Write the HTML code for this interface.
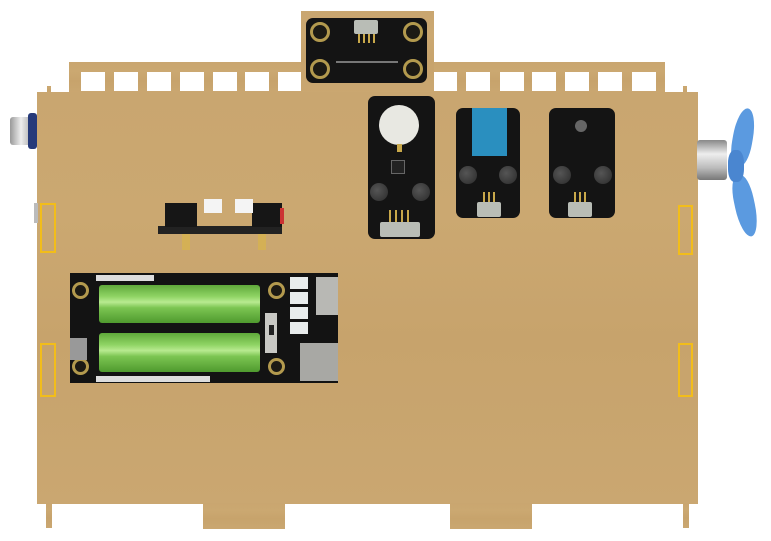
<!DOCTYPE html>
<html><head><meta charset="utf-8"><style>
html,body{margin:0;padding:0;background:#fff;}
#c{position:relative;width:771px;height:541px;overflow:hidden;background:#fff;font-family:"Liberation Sans",sans-serif;}
#c div{position:absolute;box-sizing:border-box;}
.wood{background:linear-gradient(180deg,#c9a670 0%,#cba871 30%,#c7a36c 60%,#caa771 100%);}
.win{background:#fff;width:24px;height:19px;top:72px;}
.pcb{background:#141414;border-radius:7px;}
.gold{border-radius:50%;background:#1c1a14;border:3px solid #b39a4e;}
.knob{border-radius:50%;background:radial-gradient(circle at 40% 40%,#555,#2a2a2a);}
.con{background:#b9bdb6;border-radius:2px;}
.pin{background:#c8a84a;width:2px;}
.yel{border:2px solid #f2bd1a;}
.batt{background:linear-gradient(180deg,#5fa83a 0%,#8fd464 30%,#b8ea90 45%,#7cc552 60%,#4f9a2e 100%);border-radius:3px;}
</style></head><body><div id="c">
<!-- top strip -->
<div class="wood" style="left:69px;top:62px;width:596px;height:32px;"></div>
<div class="win" style="left:81px"></div><div class="win" style="left:114px"></div><div class="win" style="left:147px"></div><div class="win" style="left:180px"></div><div class="win" style="left:213px"></div><div class="win" style="left:245px"></div><div class="win" style="left:278px"></div>
<div class="win" style="left:433px"></div><div class="win" style="left:466px"></div><div class="win" style="left:500px"></div><div class="win" style="left:532px"></div><div class="win" style="left:565px"></div><div class="win" style="left:598px"></div><div class="win" style="left:632px"></div>
<!-- top module wood -->
<div class="wood" style="left:301px;top:11px;width:133px;height:83px;"></div>
<div class="pcb" style="left:306px;top:18px;width:121px;height:65px;"></div>
<div class="gold" style="left:310px;top:22px;width:20px;height:20px;"></div>
<div class="gold" style="left:403px;top:22px;width:20px;height:20px;"></div>
<div class="gold" style="left:310px;top:59px;width:20px;height:20px;"></div>
<div class="gold" style="left:403px;top:59px;width:20px;height:20px;"></div>
<div class="con" style="left:354px;top:20px;width:24px;height:14px;"></div>
<div class="pin" style="left:358px;top:34px;height:9px"></div><div class="pin" style="left:363px;top:34px;height:9px"></div><div class="pin" style="left:368px;top:34px;height:9px"></div><div class="pin" style="left:373px;top:34px;height:9px"></div>
<div style="left:336px;top:61px;width:62px;height:2px;background:#777"></div>
<!-- main body -->
<div class="wood" style="left:37px;top:92px;width:661px;height:412px;"></div>
<!-- legs & tabs -->
<div class="wood" style="left:46px;top:503px;width:6px;height:25px;"></div>
<div class="wood" style="left:683px;top:503px;width:6px;height:25px;"></div>
<div class="wood" style="left:203px;top:503px;width:82px;height:26px;"></div>
<div class="wood" style="left:450px;top:503px;width:82px;height:26px;"></div>
<div class="wood" style="left:47px;top:86px;width:4px;height:7px;"></div>
<div class="wood" style="left:683px;top:86px;width:4px;height:7px;"></div>
<!-- left motor -->
<div style="left:10px;top:117px;width:22px;height:28px;background:linear-gradient(90deg,#999,#eee,#aaa);border-radius:3px;"></div>
<div style="left:28px;top:113px;width:9px;height:36px;background:#263a7a;border-radius:3px;"></div>
<!-- fan -->
<div style="left:697px;top:140px;width:30px;height:40px;background:linear-gradient(180deg,#888,#eee 35%,#bbb 70%,#777);border-radius:3px;"></div>
<div style="left:733px;top:108px;width:20px;height:58px;background:#5b9ae0;border-radius:50% 50% 40% 40%;transform:rotate(10deg);"></div>
<div style="left:735px;top:175px;width:20px;height:62px;background:#5b9ae0;border-radius:40% 40% 50% 50%;transform:rotate(-12deg);"></div>
<div style="left:728px;top:150px;width:16px;height:32px;background:#4a86d0;border-radius:40%;"></div>
<!-- yellow marks -->
<div class="yel" style="left:40px;top:203px;width:16px;height:50px;"></div>
<div class="yel" style="left:40px;top:343px;width:16px;height:54px;"></div>
<div class="yel" style="left:678px;top:205px;width:15px;height:50px;"></div>
<div class="yel" style="left:678px;top:343px;width:15px;height:54px;"></div>
<div style="left:34px;top:203px;width:4px;height:20px;background:#bbb"></div>
<!-- small module -->
<div style="left:158px;top:226px;width:124px;height:8px;background:#222;"></div>
<div style="left:165px;top:203px;width:32px;height:24px;background:#161616;"></div>
<div style="left:252px;top:203px;width:30px;height:24px;background:#161616;"></div>
<div style="left:280px;top:208px;width:4px;height:16px;background:#c33;"></div>
<div style="left:204px;top:199px;width:18px;height:14px;background:#f4f4f4;"></div>
<div style="left:235px;top:199px;width:18px;height:14px;background:#f4f4f4;"></div>
<div style="left:182px;top:234px;width:8px;height:16px;background:#d9b34a;opacity:.7"></div>
<div style="left:258px;top:234px;width:8px;height:16px;background:#d9b34a;opacity:.7"></div>
<!-- sound module -->
<div class="pcb" style="left:368px;top:96px;width:67px;height:143px;"></div>
<div style="left:379px;top:105px;width:40px;height:40px;border-radius:50%;background:#e8e8e2;"></div>
<div style="left:397px;top:144px;width:5px;height:8px;background:#c8a84a"></div>
<div style="left:391px;top:160px;width:14px;height:14px;background:#222;border:1px solid #666"></div>
<div class="knob" style="left:370px;top:183px;width:18px;height:18px;"></div>
<div class="knob" style="left:412px;top:183px;width:18px;height:18px;"></div>
<div class="con" style="left:380px;top:222px;width:40px;height:15px;"></div>
<div class="pin" style="left:389px;top:210px;height:12px"></div><div class="pin" style="left:395px;top:210px;height:12px"></div><div class="pin" style="left:401px;top:210px;height:12px"></div><div class="pin" style="left:407px;top:210px;height:12px"></div>
<!-- DHT module -->
<div class="pcb" style="left:456px;top:108px;width:64px;height:110px;"></div>
<div style="left:472px;top:108px;width:35px;height:48px;background:#2a8fbf;"></div>
<div class="knob" style="left:459px;top:166px;width:18px;height:18px;"></div>
<div class="knob" style="left:499px;top:166px;width:18px;height:18px;"></div>
<div class="con" style="left:477px;top:202px;width:24px;height:15px;"></div>
<div class="pin" style="left:483px;top:192px;height:10px"></div><div class="pin" style="left:488px;top:192px;height:10px"></div><div class="pin" style="left:493px;top:192px;height:10px"></div>
<!-- third module -->
<div class="pcb" style="left:549px;top:108px;width:66px;height:110px;"></div>
<div style="left:575px;top:120px;width:12px;height:12px;border-radius:50%;background:#666;"></div>
<div class="knob" style="left:553px;top:166px;width:18px;height:18px;"></div>
<div class="knob" style="left:594px;top:166px;width:18px;height:18px;"></div>
<div class="con" style="left:568px;top:202px;width:24px;height:15px;"></div>
<div class="pin" style="left:574px;top:192px;height:10px"></div><div class="pin" style="left:579px;top:192px;height:10px"></div><div class="pin" style="left:584px;top:192px;height:10px"></div>
<!-- battery board -->
<div style="left:70px;top:273px;width:268px;height:110px;background:#131313;"></div>
<div class="batt" style="left:99px;top:285px;width:161px;height:38px;"></div>
<div class="batt" style="left:99px;top:333px;width:161px;height:39px;"></div>
<div class="gold" style="left:72px;top:282px;width:17px;height:17px;"></div>
<div class="gold" style="left:72px;top:358px;width:17px;height:17px;"></div>
<div class="gold" style="left:268px;top:282px;width:17px;height:17px;"></div>
<div class="gold" style="left:268px;top:358px;width:17px;height:17px;"></div>
<div style="left:265px;top:313px;width:12px;height:40px;background:#c8c8c4;"></div>
<div style="left:269px;top:325px;width:5px;height:10px;background:#222;"></div>
<div style="left:290px;top:277px;width:18px;height:60px;background:repeating-linear-gradient(180deg,#e8ecec 0 12px,#131313 12px 15px);"></div>
<div style="left:316px;top:277px;width:22px;height:38px;background:#b8b8b4;"></div>
<div style="left:300px;top:343px;width:38px;height:38px;background:#a8a8a4;"></div>
<div style="left:70px;top:338px;width:17px;height:22px;background:#999;"></div>
<div style="left:96px;top:275px;width:58px;height:6px;background:#ddd;"></div>
<div style="left:96px;top:376px;width:114px;height:6px;background:#ddd;"></div>
</div></body></html>
